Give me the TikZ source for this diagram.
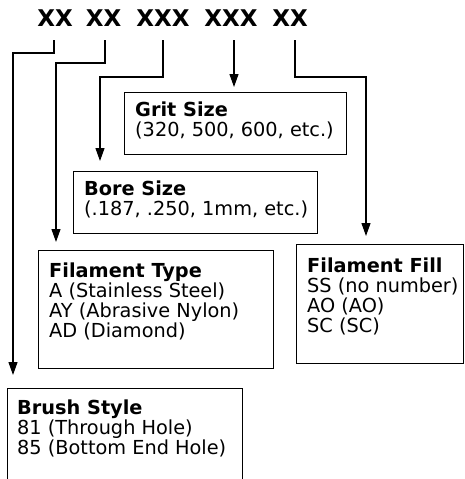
\documentclass[tikz,border=0pt]{standalone}
\usepackage{fontspec}
\setmainfont{DejaVu Sans}
\usetikzlibrary{arrows.meta}
\begin{document}
\begin{tikzpicture}[x=1pt,y=-1pt,
  conn/.style={line width=1.2pt, -{Triangle[width=9pt,length=13pt]}},
  box/.style={draw, line width=1.2pt, anchor=north west, inner sep=0pt},
  boxtext/.style={anchor=north west, align=left, inner sep=0pt, font=\fontsize{19.3}{20}\selectfont},
  code/.style={anchor=base, inner sep=0pt, font=\fontsize{23}{23}\bfseries\selectfont}]
\useasboundingbox (0,0) rectangle (464,479);
% code groups
\node[code] (x1) at (55,27) {XX};
\node[code] (x2) at (103.5,27) {XX};
\node[code] (x3) at (163,27) {XXX};
\node[code] (x4) at (231,27) {XXX};
\node[code] (x5) at (290,27) {XX};
% boxes
\node[box, minimum width=222pt, minimum height=62pt] (grit) at (124,92) {};
\node[box, minimum width=244pt, minimum height=62pt] (bore) at (73,171) {};
\node[box, minimum width=235pt, minimum height=118pt] (type) at (38,250) {};
\node[box, minimum width=167pt, minimum height=119pt] (fill) at (296,244) {};
\node[box, minimum width=235pt, minimum height=110pt] (brush) at (7,388) {};
% texts
\node[boxtext] (gritT) at ([shift={(11pt,-10pt)}]grit.north west) {\textbf{Grit Size}\\(320, 500, 600, etc.)};
\node[boxtext] (boreT) at ([shift={(11pt,-10pt)}]bore.north west) {\textbf{Bore Size}\\(.187, .250, 1mm, etc.)};
\node[boxtext] (typeT) at ([shift={(11pt,-12.5pt)}]type.north west) {\textbf{Filament Type}\\A (Stainless Steel)\\AY (Abrasive Nylon)\\AD (Diamond)};
\node[boxtext] (fillT) at ([shift={(11pt,-13.5pt)}]fill.north west) {\textbf{Filament Fill}\\SS (no number)\\AO (AO)\\SC (SC)};
\node[boxtext] (brushT) at ([shift={(10pt,-11.5pt)}]brush.north west) {\textbf{Brush Style}\\81 (Through Hole)\\85 (Bottom End Hole)};
% connectors
\coordinate (c1) at (13,53);
\coordinate (c2) at (56,63);
\coordinate (c3) at (100,77);
\coordinate (c5) at (366,77);
\draw[conn, shorten <=13pt, shorten >=13pt] ([xshift=-1pt]x1.south) |- (c1) -- (c1 |- brush.north);
\draw[conn, shorten <=13pt, shorten >=8pt] ([xshift=1.5pt]x2.south) |- (c2) -- (c2 |- type.north);
\draw[conn, shorten <=13pt, shorten >=10pt] (x3.south) |- (c3) -- (c3 |- bore.north);
\draw[conn, shorten <=13pt, shorten >=5pt] ([xshift=3pt]x4.south) -- ([xshift=3pt]x4.south |- grit.north);
\draw[conn, shorten <=13pt, shorten >=8pt] ([xshift=5pt]x5.south) |- (c5) -- (c5 |- fill.north);
\end{tikzpicture}
\end{document}
